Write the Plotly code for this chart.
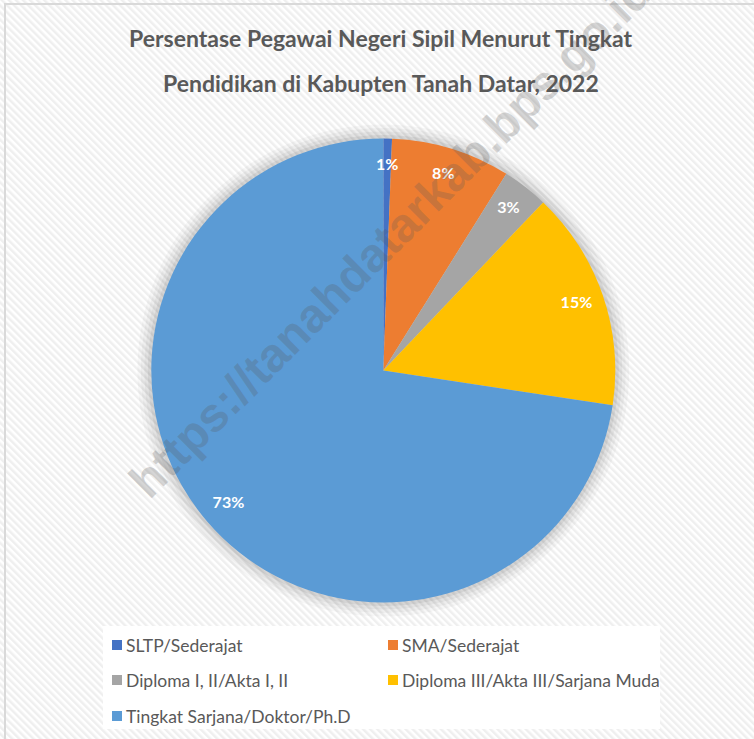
import plotly.graph_objects as go

# ---- data ----
categories = ["SLTP/Sederajat", "SMA/Sederajat", "Diploma I, II/Akta I, II",
              "Diploma III/Akta III/Sarjana Muda", "Tingkat Sarjana/Doktor/Ph.D"]
values = [0.6, 8.3, 3.2, 15.3, 72.6]
colors = ["#4472C4", "#ED7D31", "#A5A5A5", "#FFC000", "#5B9BD5"]
title_lines = ["Persentase Pegawai Negeri Sipil Menurut Tingkat",
               "Pendidikan di Kabupten Tanah Datar, 2022"]
watermark = "https://tanahdatarkab.bps.go.id"

W, H = 754, 739
def px(x): return x / W
def py(y): return 1 - y / H

CX, CY, R = 383.3, 370.5, 232
RMAX = 1.07

total = sum(values)
labels_txt = [f"{round(v / total * 100)}%" for v in values]
spans = [v / total * 360 for v in values]
mid_deg = []
acc = 0
for s in spans:
    mid_deg.append(acc + s / 2)
    acc += s

fig = go.Figure()

# soft shadow ring behind the pie
for rr, a in [(1.06, 0.03), (1.045, 0.035), (1.03, 0.045), (1.015, 0.06)]:
    fig.add_trace(go.Barpolar(r=[rr], theta=[180], width=[360], base=0,
                              marker=dict(color=f"rgba(0,0,0,{a})", line=dict(width=0)),
                              hoverinfo="skip", showlegend=False))

# pie slices
fig.add_trace(go.Barpolar(
    r=[1] * len(values), theta=mid_deg, width=spans, base=0,
    marker=dict(color=colors, line=dict(width=0)),
    customdata=categories, text=[f"{v}%" for v in values],
    hovertemplate="%{customdata}: %{text}<extra></extra>", showlegend=False))

# data labels near the outer edge
fig.add_trace(go.Scatterpolar(
    r=[0.88] * len(values), theta=mid_deg, mode="text", text=labels_txt,
    textfont=dict(family="Lato", size=16, color="white", weight="bold"),
    hoverinfo="skip", showlegend=False))

annotations = []
for t, y in zip(title_lines, [38, 83]):
    annotations.append(dict(x=px(381), y=py(y), xref="paper", yref="paper", text=f"<b>{t}</b>",
                            showarrow=False, xanchor="center", yanchor="middle",
                            font=dict(family="Lato", size=23, color="#595959")))

shapes = [
    dict(type="rect", xref="paper", yref="paper", x0=px(5), x1=1.05, y0=-0.05, y1=py(4),
         line=dict(color="#d9d9d9", width=2), fillcolor="rgba(0,0,0,0)", layer="below"),
    dict(type="rect", xref="paper", yref="paper", x0=px(103), x1=px(660), y0=py(729), y1=py(626),
         line=dict(width=0), fillcolor="white", layer="below"),
]
# legend (2 columns)
col_x = [112, 388]
row_y = [645, 680, 716]
for i, (cat, c) in enumerate(zip(categories, colors)):
    r_, c_ = divmod(i, 2)
    mx, my = col_x[c_], row_y[r_]
    shapes.append(dict(type="rect", xref="paper", yref="paper", x0=px(mx), x1=px(mx + 10),
                       y0=py(my + 5), y1=py(my - 5), line=dict(width=0), fillcolor=c))
    annotations.append(dict(x=px(mx + 12), y=py(my), xref="paper", yref="paper", text=cat,
                            showarrow=False, xanchor="left", yanchor="middle",
                            font=dict(family="Lato", size=17.5, color="#595959")))

# watermark
annotations.append(dict(x=px(390), y=py(236), xref="paper", yref="paper", text=f"<b>{watermark}</b>",
                        showarrow=False, xanchor="center", yanchor="middle", textangle=-45,
                        font=dict(family="Liberation Sans", size=48, color="rgba(90,90,90,0.25)")))

stripe_svg = ("data:image/svg+xml;utf8,<svg xmlns='http://www.w3.org/2000/svg' width='754' height='739'>"
              "<defs><pattern id='p' width='5' height='5' patternUnits='userSpaceOnUse' "
              "patternTransform='rotate(-45)'><rect width='5' height='5' fill='%23ffffff'/>"
              "<rect width='2.5' height='5' fill='%23efefef'/></pattern></defs>"
              "<rect width='754' height='739' fill='url(%23p)'/></svg>")

RD = R * RMAX
fig.update_layout(
    width=W, height=H, margin=dict(l=0, r=0, t=0, b=0),
    paper_bgcolor="white", plot_bgcolor="rgba(0,0,0,0)",
    showlegend=False,
    polar=dict(domain=dict(x=[px(CX - RD), px(CX + RD)], y=[py(CY + RD), py(CY - RD)]),
               bgcolor="rgba(0,0,0,0)", bargap=0, barmode="overlay",
               radialaxis=dict(range=[0, RMAX], visible=False, showgrid=False),
               angularaxis=dict(rotation=90, direction="clockwise", visible=False, showgrid=False)),
    annotations=annotations, shapes=shapes,
    images=[dict(source=stripe_svg, xref="paper", yref="paper", x=0, y=1, sizex=1, sizey=1,
                 xanchor="left", yanchor="top", sizing="stretch", layer="below")],
)

fig.write_html("out.html", config={"displayModeBar": False},
               post_script="document.body.style.margin='0px';")
